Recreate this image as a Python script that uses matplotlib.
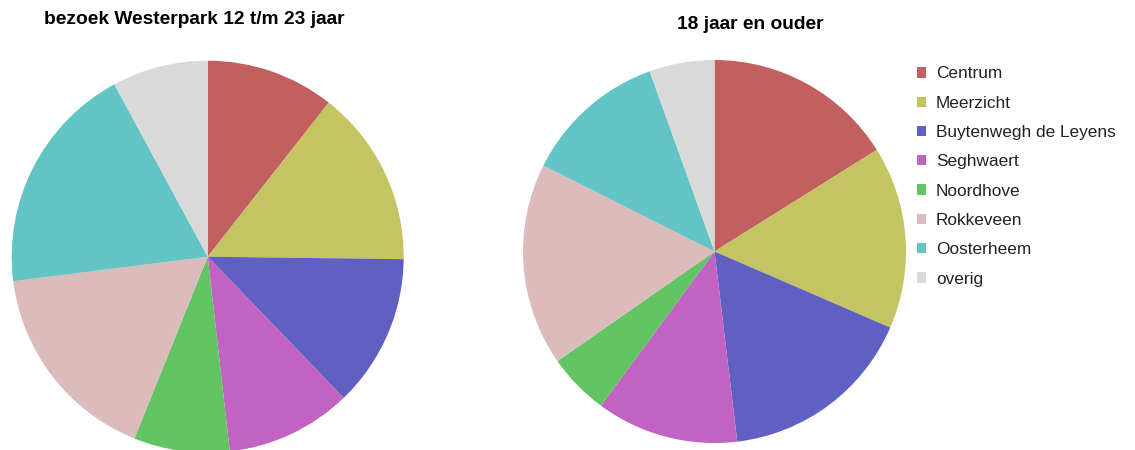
import matplotlib
matplotlib.use("Agg")
import matplotlib.pyplot as plt

categories = ["Centrum", "Meerzicht", "Buytenwegh de Leyens", "Seghwaert",
              "Noordhove", "Rokkeveen", "Oosterheem", "overig"]
values_12_23 = [10.6, 14.6, 12.6, 10.4, 7.9, 16.9, 19.1, 7.9]
values_18plus = [16.1, 15.4, 16.6, 12.0, 5.2, 17.1, 12.1, 5.5]
colors = ["#C26060", "#C4C462", "#6060C2", "#C262C2", "#62C462",
          "#DBBBBC", "#62C4C4", "#D9D9D9"]
title_left = "bezoek Westerpark 12 t/m 23 jaar"
title_right = "18 jaar en ouder"

W, H = 1135, 450
fig = plt.figure(figsize=(W / 100, H / 100), dpi=100)
fig.patch.set_facecolor("white")


def px_axes(cx, cy, r):
    return fig.add_axes([(cx - r) / W, (H - cy - r) / H, 2 * r / W, 2 * r / H])


ax1 = px_axes(207.7, 256.7, 196)
ax2 = px_axes(714.5, 251.5, 191.5)

for ax, vals in [(ax1, values_12_23), (ax2, values_18plus)]:
    wedges, _ = ax.pie(vals, colors=colors, startangle=90, counterclock=False,
                       radius=1.0, wedgeprops=dict(linewidth=0))
    ax.set_xlim(-1, 1)
    ax.set_ylim(-1, 1)
    ax.set_aspect("equal")
    ax.axis("off")

fig.text(194.5 / W, 1 - 20 / H, title_left, ha="center", va="center",
         fontsize=13.8, fontweight="bold", family="Liberation Sans")
fig.text(750.5 / W, 1 - 24.5 / H, title_right, ha="center", va="center",
         fontsize=13.8, fontweight="bold", family="Liberation Sans")

leg = fig.legend(wedges, categories, loc="upper left",
                 bbox_to_anchor=(917 / W, 1 - 66.5 / H),
                 frameon=False, prop=dict(family="Liberation Sans", size=12.4),
                 handlelength=0.55, handleheight=0.55, handletextpad=0.55,
                 labelspacing=0.83, borderpad=0, borderaxespad=0)
for t in leg.get_texts():
    t.set_color("#222222")

fig.savefig("out.png", dpi=100)
